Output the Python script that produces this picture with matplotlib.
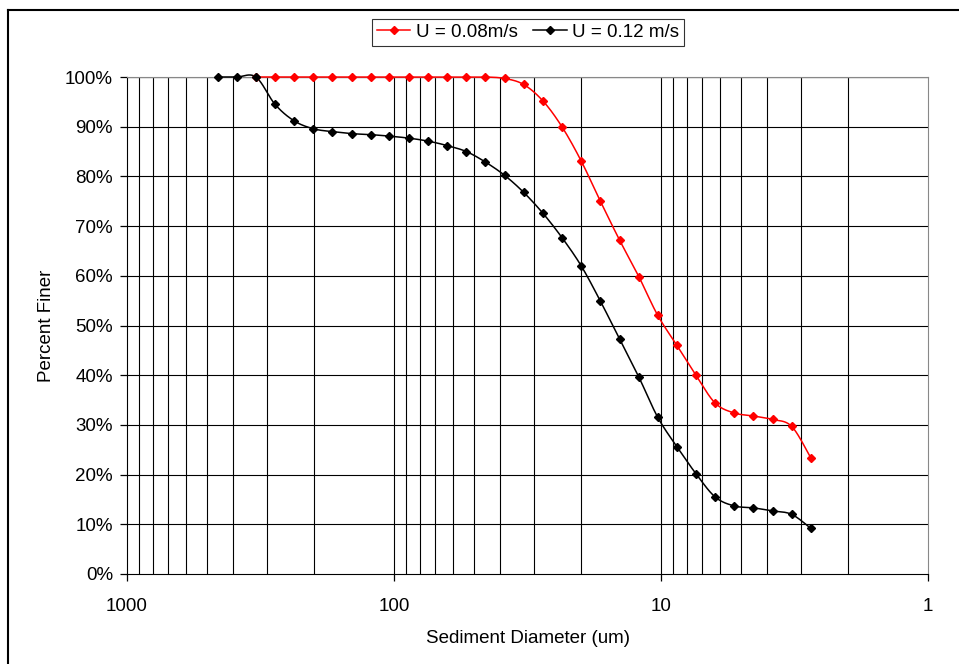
import numpy as np
import matplotlib
matplotlib.use("Agg")
import matplotlib.pyplot as plt
from matplotlib.ticker import FixedLocator, FuncFormatter, NullFormatter
from matplotlib.lines import Line2D

plt.rcParams['font.family'] = ['Liberation Sans', 'DejaVu Sans']

# Datos (diametro en um, porcentaje mas fino)
diametro = [458, 388, 329, 279, 237, 201, 170, 144, 122, 104, 88.0, 74.6, 63.2,
            53.6, 45.5, 38.5, 32.7, 27.7, 23.5, 19.9, 16.9, 14.3, 12.1, 10.3,
            8.72, 7.40, 6.27, 5.32, 4.51, 3.82, 3.24, 2.75]

finer_012 = [100, 100, 100, 94.5, 91.2, 89.6, 89.0, 88.6, 88.4, 88.1, 87.7,
             87.1, 86.2, 85.0, 82.9, 80.2, 76.8, 72.6, 67.7, 62.0, 55.0, 47.3,
             39.6, 31.6, 25.6, 20.2, 15.5, 13.7, 13.3, 12.7, 12.0, 9.2]

diametro_008 = diametro[2:]
finer_008 = [100, 100, 100, 100, 100, 100, 100, 100, 100, 100, 100, 100, 100,
             99.7, 98.5, 95.2, 90.0, 83.1, 75.1, 67.2, 59.8, 52.1, 46.0, 40.0,
             34.4, 32.4, 31.8, 31.1, 29.7, 23.4]

labels = ['U = 0.08m/s', 'U = 0.12 m/s']
colores = ['red', 'black']


def suavizar(x, y, n=20):
    # curva suavizada tipo Excel (Catmull-Rom) en espacio log(x), y
    lx = np.log10(np.asarray(x, dtype=float))
    yy = np.asarray(y, dtype=float)
    px = np.concatenate([[lx[0]], lx, [lx[-1]]])
    py = np.concatenate([[yy[0]], yy, [yy[-1]]])
    out_x, out_y = [], []
    t = np.linspace(0, 1, n)
    for i in range(1, len(px) - 2):
        p0x, p1x, p2x, p3x = px[i - 1], px[i], px[i + 1], px[i + 2]
        p0y, p1y, p2y, p3y = py[i - 1], py[i], py[i + 1], py[i + 2]
        c1x, c1y = p1x + (p2x - p0x) / 6, p1y + (p2y - p0y) / 6
        c2x, c2y = p2x - (p3x - p1x) / 6, p2y - (p3y - p1y) / 6
        bx = (1 - t) ** 3 * p1x + 3 * (1 - t) ** 2 * t * c1x + 3 * (1 - t) * t ** 2 * c2x + t ** 3 * p2x
        by = (1 - t) ** 3 * p1y + 3 * (1 - t) ** 2 * t * c1y + 3 * (1 - t) * t ** 2 * c2y + t ** 3 * p2y
        out_x.extend(bx)
        out_y.extend(by)
    return 10 ** np.array(out_x), np.array(out_y)


fig = plt.figure(figsize=(9.59, 6.64), dpi=100)
ax = fig.add_axes([127 / 959, 90 / 664, (928 - 127) / 959, (574 - 77) / 664])

ax.set_xscale('log')
ax.set_xlim(1000, 1)
ax.set_ylim(0, 100)

# Rejilla vertical (mayores y menores) y horizontal
for dec in [1, 10, 100]:
    for k in range(1, 10):
        v = dec * k
        if 1 < v < 1000:
            ax.axvline(v, color='black', lw=0.8, zorder=1)
for v in range(10, 100, 10):
    ax.axhline(v, color='black', lw=0.8, zorder=1)
ax.axhline(100, color='#888888', lw=1.0, zorder=1)

series = [(diametro_008, finer_008), (diametro, finer_012)]
for (xs, ys), lab, col in zip(series, labels, colores):
    sx, sy = suavizar(xs, ys)
    ax.plot(sx, sy, color=col, lw=1.1, zorder=3, clip_on=False)
    ax.plot(xs, ys, linestyle='none', marker='D', markersize=4.2, color=col,
            zorder=4, clip_on=False)

ax.xaxis.set_major_locator(FixedLocator([1000, 100, 10, 1]))
ax.xaxis.set_minor_locator(FixedLocator([]))
ax.xaxis.set_major_formatter(FuncFormatter(lambda v, p: '%d' % round(v)))
ax.xaxis.set_minor_formatter(NullFormatter())
ax.set_yticks(range(0, 101, 10))
ax.yaxis.set_major_formatter(FuncFormatter(lambda v, p: '%d%%' % v))
ax.tick_params(axis='both', direction='out', length=5, width=0.9, labelsize=13.5, colors='black')
ax.tick_params(axis='x', pad=12)
ax.tick_params(axis='y', pad=5)

ax.spines['left'].set_color('black')
ax.spines['bottom'].set_color('black')
ax.spines['top'].set_color('#888888')
ax.spines['right'].set_color('#888888')

ax.set_xlabel('Sediment Diameter (um)', fontsize=13.5, labelpad=11)
ax.set_ylabel('Percent Finer', fontsize=13.5, labelpad=7)

handles = [Line2D([], [], color=c, lw=1.1, marker='D', markersize=4.2) for c in colores]
leg = fig.legend(handles, labels, loc='upper center', bbox_to_anchor=(528 / 959, 1 - 19 / 664),
                 ncol=2, fontsize=13.5, frameon=True, fancybox=False, handlelength=1.8,
                 handletextpad=0.3, columnspacing=0.8, borderpad=0.25, borderaxespad=0)
leg.get_frame().set_edgecolor('black')
leg.get_frame().set_linewidth(0.8)

# Borde del area del grafico (solo izquierda y arriba visibles)
fig.add_artist(Line2D([8 / 959, 8 / 959], [0, 1 - 10 / 664], color='black', lw=1.5))
fig.add_artist(Line2D([8 / 959, 1], [1 - 10 / 664, 1 - 10 / 664], color='black', lw=1.5))

fig.savefig('out.png', dpi=100)
